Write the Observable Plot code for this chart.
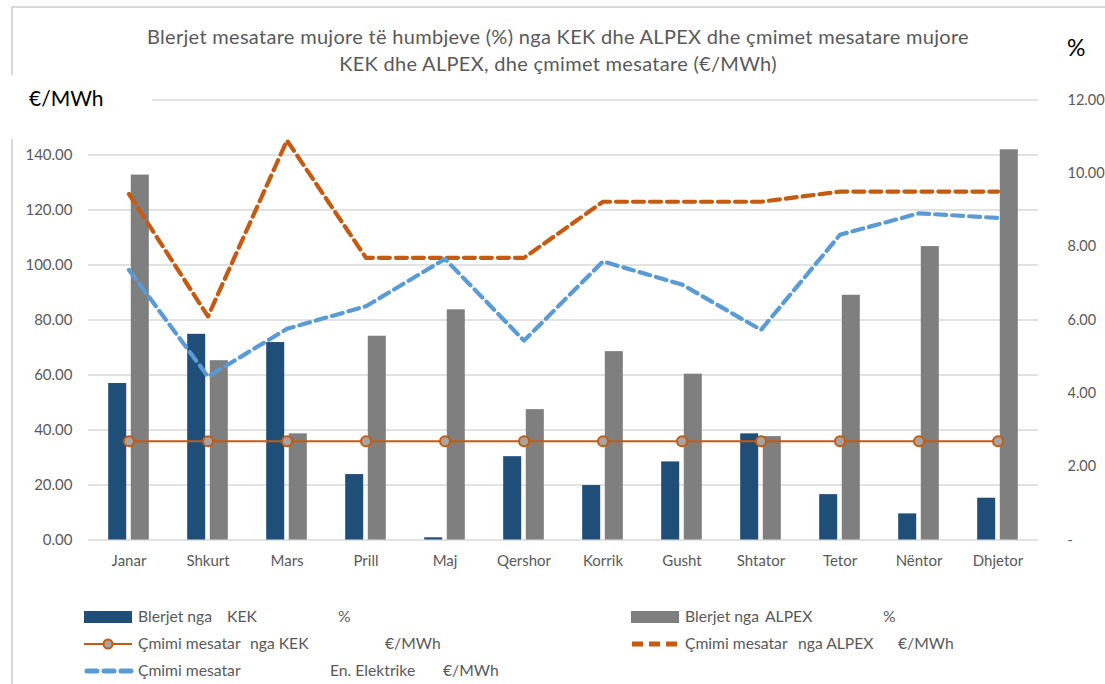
<!DOCTYPE html>
<html><head><meta charset="utf-8">
<script src="https://cdn.jsdelivr.net/npm/d3@7"></script>
<script src="https://cdn.jsdelivr.net/npm/@observablehq/plot@0.6"></script>
<style>
html,body{margin:0;padding:0;background:#fff;}
#wrap{position:relative;width:1105px;height:684px;overflow:hidden;font-family:Lato,"Open Sans",sans-serif;}
#frame{position:absolute;left:11px;top:6px;width:1110px;height:700px;border-top:2px solid #d9d9d9;border-left:2px solid #d9d9d9;}
#chart{position:absolute;left:0;top:0;}
.t{position:absolute;white-space:pre;line-height:1;}
.title{position:absolute;left:0;width:1116px;text-align:center;font-size:20px;letter-spacing:0.3px;color:#595959;white-space:pre;line-height:1;}
.lg{position:absolute;font-size:15.7px;color:#595959;white-space:pre;line-height:1;}
.sw{position:absolute;}
</style>
</head><body>
<div id="wrap">
  <div id="frame"></div>
  <div id="chart"></div>
  <div class="title" style="top:26px">Blerjet mesatare mujore të humbjeve (%) nga KEK dhe ALPEX dhe çmimet mesatare mujore</div>
  <div class="title" style="top:53px">KEK dhe ALPEX, dhe çmimet mesatare (€/MWh)</div>
  <div style="position:absolute;left:0;top:75px;width:152px;height:64px;background:#fff;"></div>
  <div class="t" style="left:29px;top:87px;font-size:21px;color:#000;">€/MWh</div>
  <div class="t" style="left:1067px;top:36px;font-size:23px;color:#000;">%</div>
  <div id="legend"></div>
</div>
<script>
const months = ["Janar","Shkurt","Mars","Prill","Maj","Qershor","Korrik","Gusht","Shtator","Tetor","Nëntor","Dhjetor"];
const kekPct = [56.9,74.8,71.8,23.8,0.8,30.3,19.8,28.4,38.6,16.5,9.5,15.2];
const alpexPct = [132.7,65.2,38.6,74.1,83.7,47.4,68.5,60.3,37.6,89.0,106.7,141.9];
const kekPrice = [35.9,35.9,35.9,35.9,35.9,35.9,35.9,35.9,35.9,35.9,35.9,35.9];
const alpexPrice = [125.8,81.3,145.3,102.6,102.6,102.6,123.0,123.0,123.0,126.7,126.7,126.7];
const elecPrice = [98.2,59.4,76.8,85.0,102.2,72.5,101.3,92.9,76.4,111.0,118.8,117.1];
const leftTicks = [0,20,40,60,80,100,120,140];
const gridTicks = [0,20,40,60,80,100,120,140,160];
const rightTicks = [0,2,4,6,8,10,12];
const rightLabels = ["-","2.00","4.00","6.00","8.00","10.00","12.00"];
const leftMax = 160, rightMax = 12;

const data = months.map((m,i)=>({month:m,kek:kekPct[i],alpex:alpexPct[i],kekPrice:kekPrice[i],alpexPrice:alpexPrice[i],elec:elecPrice[i]}));

const W=1105, H=580, mL=88, mR=67, mT=99.5, mB=40.5;
const bw=(W-mL-mR)/months.length, barW=18.2, gap=4.4;

const chart = Plot.plot({
  width:W, height:H, marginLeft:mL, marginRight:mR, marginTop:mT, marginBottom:mB,
  style:{fontFamily:"Lato, 'Open Sans', sans-serif", fontSize:"15px", color:"#595959", background:"transparent", overflow:"visible"},
  x:{domain:months, padding:0, label:null, axis:null},
  y:{domain:[0,leftMax], label:null, axis:null},
  marks:[
    Plot.ruleY(gridTicks,{stroke:"#d9d9d9", strokeWidth:1.6}),
    Plot.barY(data,{x:"month", y:"kek", fill:"#1f4e79", insetLeft:bw/2-gap/2-barW, insetRight:bw/2+gap/2}),
    Plot.barY(data,{x:"month", y:"alpex", fill:"#7f7f7f", insetLeft:bw/2+gap/2, insetRight:bw/2-gap/2-barW}),
    Plot.lineY(data,{x:"month", y:"alpexPrice", stroke:"#c55a11", strokeWidth:4.2, strokeDasharray:"11,6"}),
    Plot.lineY(data,{x:"month", y:"elec", stroke:"#5b9bd5", strokeWidth:4.2, strokeDasharray:"11,6"}),
    Plot.lineY(data,{x:"month", y:"kekPrice", stroke:"#c55a11", strokeWidth:2}),
    Plot.dot(data,{x:"month", y:"kekPrice", r:5, fill:"#a5a5a5", stroke:"#c55a11", strokeWidth:2}),
    Plot.axisY(leftTicks,{anchor:"left", tickSize:0, tickPadding:16, tickFormat:d=>d.toFixed(2), fontSize:15}),
    Plot.axisY(rightTicks.map(r=>r*leftMax/rightMax),{anchor:"right", tickSize:0, tickPadding:21, dx:8, tickFormat:(d,i)=>rightLabels[i], fontSize:14.5}),
    Plot.axisX(months,{anchor:"bottom", tickSize:0, tickPadding:15, fontSize:15})
  ]
});
document.getElementById("chart").appendChild(chart);

// legend
const lg = document.getElementById("legend");
function txt(x,y,s){const d=document.createElement("div");d.className="lg";d.style.left=x+"px";d.style.top=(y-8)+"px";d.textContent=s;lg.appendChild(d);}
function sw(x,y,svg){const d=document.createElement("div");d.className="sw";d.style.left=x+"px";d.style.top=(y-8)+"px";d.innerHTML=`<svg width="50" height="16">${svg}</svg>`;lg.appendChild(d);}
const r1=617, r2=644, r3=671;
sw(84,r1,'<rect x="0" y="2" width="48" height="12" fill="#1f4e79"/>');
txt(138,r1,"Blerjet nga"); txt(227,r1,"KEK"); txt(338,r1,"%");
sw(631,r1,'<rect x="0" y="2" width="48" height="12" fill="#7f7f7f"/>');
txt(685,r1,"Blerjet nga"); txt(765,r1,"ALPEX"); txt(883,r1,"%");
sw(84,r2,'<line x1="0" x2="48" y1="8" y2="8" stroke="#c55a11" stroke-width="2"/><circle cx="24" cy="8" r="4.5" fill="#a5a5a5" stroke="#c55a11" stroke-width="2"/>');
txt(138,r2,"Çmimi mesatar"); txt(250,r2,"nga KEK"); txt(385,r2,"€/MWh");
sw(631,r2,'<line x1="1" x2="48" y1="8" y2="8" stroke="#c55a11" stroke-width="5" stroke-dasharray="11,6"/>');
txt(685,r2,"Çmimi mesatar"); txt(798,r2,"nga ALPEX"); txt(898,r2,"€/MWh");
sw(84,r3,'<line x1="3" x2="48" y1="8" y2="8" stroke="#5b9bd5" stroke-width="5" stroke-dasharray="10,7" stroke-linecap="round"/>');
txt(138,r3,"Çmimi mesatar"); txt(330,r3,"En. Elektrike"); txt(443,r3,"€/MWh");
</script>
</body></html>
